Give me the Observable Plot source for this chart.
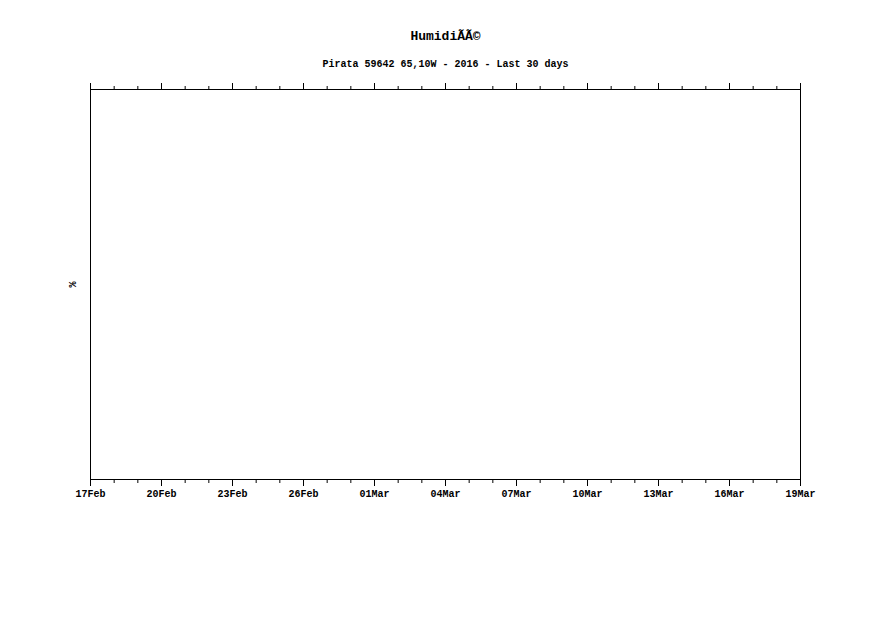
<!DOCTYPE html>
<html>
<head>
<meta charset="utf-8">
<script src="https://cdn.jsdelivr.net/npm/d3@7"></script>
<script src="https://cdn.jsdelivr.net/npm/@observablehq/plot@0.6"></script>
<style>
  body { margin: 0; background: #fff; }
  #wrap { position: relative; width: 891px; height: 630px; overflow: hidden; }
  .hdr { position: absolute; left: 0; width: 891px; text-align: center; color: #000;
         font-family: "Liberation Mono", monospace; font-weight: bold; line-height: 1; white-space: pre; }
  #title { top: 30px; font-size: 13px; }
  #subtitle { top: 60px; font-size: 10px; }
  #chart { position: absolute; left: 0; top: 0; }
</style>
</head>
<body>
<div id="wrap">
  <div id="chart"></div>
  <div id="title" class="hdr"></div>
  <div id="subtitle" class="hdr"></div>
</div>
<script>
const titleText = "HumidiÃÃ©";
const subtitleText = "Pirata 59642 65,10W - 2016 - Last 30 days";
const yLabel = "%";
// day offsets since 17Feb (30-day window)
const majorDays = [0, 3, 6, 9, 12, 15, 18, 21, 24, 27, 30];
const majorLabels = ["17Feb","20Feb","23Feb","26Feb","01Mar","04Mar","07Mar","10Mar","13Mar","16Mar","19Mar"];
const minorDays = [0,1,2,3,4,5,6,7,8,9,10,11,12,13,14,15,16,17,18,19,20,21,22,23,24,25,26,27,28,29,30];
const xDomain = [0, 30];
const yDomain = [0, 100];
// no humidity values are plotted in the reference
const humidityDays = [];
const humidityValues = [];

document.getElementById("title").textContent = titleText;
document.getElementById("subtitle").textContent = subtitleText;

const data = humidityDays.map((d, i) => ({day: d, value: humidityValues[i]}));
const font = "Liberation Mono, monospace";

const plot = Plot.plot({
  width: 891,
  height: 630,
  marginLeft: 90,
  marginRight: 91,
  marginTop: 89,
  marginBottom: 151,
  style: {fontFamily: font, fontSize: "10px", fontWeight: "bold", color: "#000", background: "#fff"},
  x: {domain: xDomain, axis: null},
  y: {domain: yDomain, axis: null},
  marks: [
    Plot.line(data, {x: "day", y: "value", stroke: "#000"}),
    Plot.axisX({anchor: "bottom", ticks: minorDays, tickSize: 4, tickFormat: () => "", label: null, strokeWidth: 1}),
    Plot.axisX({anchor: "bottom", ticks: majorDays, tickSize: 7, tickPadding: 3, tickFormat: (d) => majorLabels[majorDays.indexOf(d)], label: null, strokeWidth: 1}),
    Plot.axisX({anchor: "top", ticks: minorDays, tickSize: 4, tickFormat: () => "", label: null, strokeWidth: 1}),
    Plot.axisX({anchor: "top", ticks: majorDays, tickSize: 7, tickFormat: () => "", label: null, strokeWidth: 1}),
    Plot.frame({stroke: "#000", strokeWidth: 1}),
    Plot.text([yLabel], {text: d => d, frameAnchor: "left", dx: -18, dy: 3, rotate: -90, fontSize: 10, fill: "#000"})
  ]
});
document.getElementById("chart").appendChild(plot);
</script>
</body>
</html>
